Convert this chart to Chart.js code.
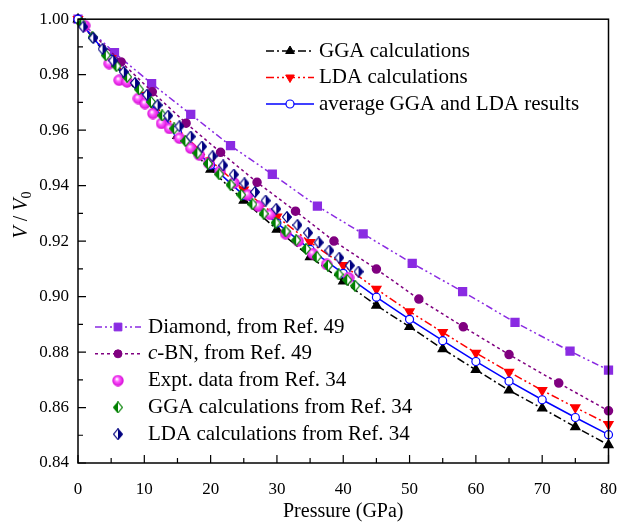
<!DOCTYPE html>
<html>
<head>
<meta charset="utf-8">
<script src="https://cdn.jsdelivr.net/npm/chart.js@4.4.1/dist/chart.umd.min.js"></script>
<style>
  html, body { margin: 0; padding: 0; background: #fff; }
</style>
</head>
<body>
<canvas id="chartCanvas" width="633" height="525"></canvas>
<script>
// calculated curves, every 5 GPa
const pressure = [0, 5, 10, 15, 20, 25, 30, 35, 40, 45, 50, 55, 60, 65, 70, 75, 80];
const ggaCalc = [1.0, 0.9850, 0.9710, 0.9580, 0.9458, 0.9346, 0.9242, 0.9143, 0.9055, 0.8968, 0.8891, 0.8811, 0.8736, 0.8662, 0.8597, 0.8530, 0.8465];
const ldaCalc = [1.0, 0.9859, 0.9727, 0.9605, 0.9490, 0.9385, 0.9288, 0.9196, 0.9113, 0.9027, 0.8946, 0.8871, 0.8797, 0.8728, 0.8662, 0.8600, 0.8540];
const avgCalc = [1.0, 0.9855, 0.9718, 0.9592, 0.9474, 0.9365, 0.9265, 0.9170, 0.9084, 0.8998, 0.8918, 0.8841, 0.8766, 0.8695, 0.8628, 0.8564, 0.8502];

// Ref. 49
const diamondP = [0, 5.5, 11.1, 17.0, 23.0, 29.3, 36.1, 43.0, 50.4, 58.0, 65.9, 74.2, 80.0];
const diamondV = [1.0, 0.9879, 0.9768, 0.9657, 0.9544, 0.9441, 0.9326, 0.9226, 0.9120, 0.9018, 0.8907, 0.8803, 0.8735];
const cbnP = [0, 6.5, 11.2, 16.3, 21.5, 27.0, 32.8, 38.6, 45.0, 51.4, 58.1, 65.0, 72.5, 80.0];
const cbnV = [1.0, 0.9846, 0.9738, 0.9625, 0.9520, 0.9412, 0.9308, 0.9200, 0.9099, 0.8991, 0.8891, 0.8791, 0.8688, 0.8588];

// Ref. 34
const exptP = [1.0, 4.7, 6.2, 7.4, 9.1, 10.1, 11.3, 12.6, 13.8, 15.3, 17.0, 18.3, 19.7, 21.4, 23.5, 25.6, 27.2, 29.0, 31.3, 33.2, 35.4, 37.5, 40.8];
const exptV = [0.9977, 0.9840, 0.9780, 0.9774, 0.9714, 0.9696, 0.9660, 0.9624, 0.9606, 0.9571, 0.9535, 0.9510, 0.9481, 0.9451, 0.9410, 0.9367, 0.9326, 0.9296, 0.9227, 0.9200, 0.9155, 0.9116, 0.9068];
const ggaRefP = [0.5, 2.2, 4.2, 5.8, 7.4, 9.2, 11.0, 12.7, 14.5, 16.2, 18.0, 19.6, 21.3, 23.0, 24.6, 26.3, 28.0, 29.8, 31.3, 32.9, 34.4, 36.0, 37.7, 39.3, 40.6, 41.8];
const ggaRefV = [0.9985, 0.9935, 0.9870, 0.9831, 0.9792, 0.9747, 0.9702, 0.9653, 0.9606, 0.9561, 0.9517, 0.9479, 0.9441, 0.9403, 0.9367, 0.9333, 0.9299, 0.9266, 0.9235, 0.9203, 0.9172, 0.9143, 0.9112, 0.9080, 0.9060, 0.9039];
const ldaRefP = [0.8, 2.3, 3.7, 5.3, 6.9, 8.6, 10.4, 12.0, 13.6, 15.3, 17.0, 18.7, 20.3, 21.9, 23.5, 25.1, 26.7, 28.3, 29.9, 31.5, 33.1, 34.7, 36.3, 37.9, 39.4, 41.0, 42.3];
const ldaRefV = [0.9973, 0.9932, 0.9893, 0.9851, 0.9810, 0.9770, 0.9728, 0.9690, 0.9652, 0.9614, 0.9577, 0.9541, 0.9506, 0.9473, 0.9440, 0.9408, 0.9377, 0.9346, 0.9316, 0.9287, 0.9258, 0.9230, 0.9195, 0.9166, 0.9140, 0.9112, 0.9090];

const xTicks = [0, 10, 20, 30, 40, 50, 60, 70, 80];
const xMinor = [5, 15, 25, 35, 45, 55, 65, 75];
const yTicks = [0.84, 0.86, 0.88, 0.90, 0.92, 0.94, 0.96, 0.98, 1.00];
const yMinor = [0.85, 0.87, 0.89, 0.91, 0.93, 0.95, 0.97, 0.99];

const FONT = "'Liberation Serif', 'Times New Roman', serif";

function pts(xs, ys) {
    return xs.map((x, i) => ({ x: x, y: ys[i] }));
}

// half filled diamond, like the origin markers
function halfDiamond(color, leftHalf) {
    const c = document.createElement("canvas");
    c.width = 10;
    c.height = 12;
    const g = c.getContext("2d");
    g.beginPath();
    g.moveTo(5, 0.6);
    g.lineTo(9.4, 6);
    g.lineTo(5, 11.4);
    g.lineTo(0.6, 6);
    g.closePath();
    g.fillStyle = "#fff";
    g.fill();
    g.save();
    g.clip();
    g.fillStyle = color;
    if (leftHalf) g.fillRect(0, 0, 5, 12);
    else g.fillRect(5, 0, 5, 12);
    g.restore();
    g.strokeStyle = color;
    g.lineWidth = 1.1;
    g.stroke();
    return c;
}

function sphere(d) {
    const c = document.createElement("canvas");
    c.width = d;
    c.height = d;
    const g = c.getContext("2d");
    const grad = g.createRadialGradient(d * 0.4, d * 0.36, 0.4, d / 2, d / 2, d / 2);
    grad.addColorStop(0, "#ffffff");
    grad.addColorStop(0.35, "#ff5cff");
    grad.addColorStop(1, "#d000d0");
    g.fillStyle = grad;
    g.beginPath();
    g.arc(d / 2, d / 2, d / 2 - 0.3, 0, 2 * Math.PI);
    g.fill();
    return c;
}

const ggaRefMark = halfDiamond("#008000", true);
const ldaRefMark = halfDiamond("#000080", false);
const exptMark = sphere(12);

const datasets = [
    {
        label: "LDA calculations from Ref. 34",
        data: pts(ldaRefP, ldaRefV),
        showLine: false,
        pointStyle: ldaRefMark,
        order: 1
    },
    {
        label: "GGA calculations from Ref. 34",
        data: pts(ggaRefP, ggaRefV),
        showLine: false,
        pointStyle: ggaRefMark,
        order: 2
    },
    {
        label: "Expt. data from Ref. 34",
        data: pts(exptP, exptV),
        showLine: false,
        pointStyle: exptMark,
        order: 3
    },
    {
        label: "average GGA and LDA results",
        data: pts(pressure, avgCalc),
        borderColor: "#0000ff",
        borderWidth: 1.5,
        pointStyle: "circle",
        pointRadius: 4,
        pointBackgroundColor: "#ffffff",
        pointBorderColor: "#0000ff",
        pointBorderWidth: 1.2,
        order: 4
    },
    {
        label: "LDA calculations",
        data: pts(pressure, ldaCalc),
        borderColor: "#ff0000",
        borderWidth: 1.5,
        borderDash: [8, 3, 2, 3, 2, 3],
        pointStyle: "triangle",
        pointRotation: 180,
        pointRadius: 5,
        pointBackgroundColor: "#ff0000",
        pointBorderColor: "#ff0000",
        order: 5
    },
    {
        label: "GGA calculations",
        data: pts(pressure, ggaCalc),
        borderColor: "#000000",
        borderWidth: 1.5,
        borderDash: [8, 3, 2, 3],
        pointStyle: "triangle",
        pointRadius: 5,
        pointBackgroundColor: "#000000",
        pointBorderColor: "#000000",
        order: 6
    },
    {
        label: "c-BN, from Ref. 49",
        data: pts(cbnP, cbnV),
        borderColor: "#800080",
        borderWidth: 1.5,
        borderDash: [3, 3],
        pointStyle: "circle",
        pointRadius: 4,
        pointBackgroundColor: "#800080",
        pointBorderColor: "#800080",
        order: 7
    },
    {
        label: "Diamond, from Ref. 49",
        data: pts(diamondP, diamondV),
        borderColor: "#8a2be2",
        borderWidth: 1.5,
        borderDash: [7, 3, 2, 3, 2, 3],
        pointStyle: "rect",
        pointRadius: 5.5,
        pointBackgroundColor: "#8a2be2",
        pointBorderColor: "#8a2be2",
        order: 8
    }
];
datasets.forEach(d => {
    d.fill = false;
    d.tension = 0;
    d.clip = false;
    if (d.pointRadius === undefined) d.pointRadius = 6;
});

function byLabel(l) {
    return datasets.find(d => d.label === l);
}

const legendTop = ["GGA calculations", "LDA calculations", "average GGA and LDA results"];
const legendBottom = ["Diamond, from Ref. 49", "c-BN, from Ref. 49", "Expt. data from Ref. 34",
    "GGA calculations from Ref. 34", "LDA calculations from Ref. 34"];

function drawEntry(ctx, ds, x0, x1, y, textX) {
    ctx.save();
    if (ds.showLine !== false) {
        ctx.strokeStyle = ds.borderColor;
        ctx.lineWidth = ds.borderWidth;
        ctx.setLineDash(ds.borderDash || []);
        ctx.beginPath();
        ctx.moveTo(x0, y);
        ctx.lineTo(x1, y);
        ctx.stroke();
        ctx.setLineDash([]);
    }
    ctx.fillStyle = ds.pointBackgroundColor || "#000";
    ctx.strokeStyle = ds.pointBorderColor || "#000";
    ctx.lineWidth = ds.pointBorderWidth || 1;
    Chart.helpers.drawPoint(ctx, {
        pointStyle: ds.pointStyle,
        radius: ds.pointRadius,
        rotation: ds.pointRotation || 0,
        borderWidth: ds.pointBorderWidth || 1
    }, (x0 + x1) / 2, y);
    ctx.fillStyle = "#000";
    ctx.font = "21px " + FONT;
    ctx.textBaseline = "middle";
    ctx.textAlign = "left";
    let label = ds.label;
    if (label.startsWith("c-BN")) {
        ctx.font = "italic 21px " + FONT;
        ctx.fillText("c", textX, y);
        const w = ctx.measureText("c").width;
        ctx.font = "21px " + FONT;
        ctx.fillText(label.slice(1), textX + w, y);
    } else {
        ctx.fillText(label, textX, y);
    }
    ctx.restore();
}

const framePlugin = {
    id: "frame",
    afterDraw(chart) {
        const ctx = chart.ctx;
        const a = chart.chartArea;
        const xs = chart.scales.x;
        const ys = chart.scales.y;
        ctx.save();
        ctx.strokeStyle = "#000";
        ctx.lineWidth = 1.5;
        ctx.strokeRect(a.left, a.top, a.right - a.left, a.bottom - a.top);
        ctx.lineWidth = 1.2;
        ctx.beginPath();
        xTicks.forEach(v => { const p = xs.getPixelForValue(v); ctx.moveTo(p, a.bottom); ctx.lineTo(p, a.bottom - 8); });
        xMinor.forEach(v => { const p = xs.getPixelForValue(v); ctx.moveTo(p, a.bottom); ctx.lineTo(p, a.bottom - 5); });
        yTicks.forEach(v => { const p = ys.getPixelForValue(v); ctx.moveTo(a.left, p); ctx.lineTo(a.left + 8, p); });
        yMinor.forEach(v => { const p = ys.getPixelForValue(v); ctx.moveTo(a.left, p); ctx.lineTo(a.left + 5, p); });
        ctx.stroke();

        // axis titles
        ctx.fillStyle = "#000";
        ctx.font = "20px " + FONT;
        ctx.textAlign = "center";
        ctx.textBaseline = "middle";
        ctx.fillText("Pressure (GPa)", (a.left + a.right) / 2, 512);

        ctx.save();
        ctx.translate(22, 215);
        ctx.rotate(-Math.PI / 2);
        const parts = [
            ["italic 20px " + FONT, "V", 0],
            ["20px " + FONT, " / ", 0],
            ["italic 20px " + FONT, "V", 0],
            ["14px " + FONT, "0", 5]
        ];
        let total = 0;
        parts.forEach(p => { ctx.font = p[0]; total += ctx.measureText(p[1]).width; });
        let cx = -total / 2;
        ctx.textAlign = "left";
        parts.forEach(p => {
            ctx.font = p[0];
            ctx.fillText(p[1], cx, p[2]);
            cx += ctx.measureText(p[1]).width;
        });
        ctx.restore();

        legendTop.forEach((l, i) => drawEntry(ctx, byLabel(l), 266, 314, 51 + i * 26.5, 319));
        legendBottom.forEach((l, i) => drawEntry(ctx, byLabel(l), 95, 141, 327 + i * 26.8, 148));
        ctx.restore();
    }
};

const ctx = document.getElementById("chartCanvas").getContext("2d");
const chart = new Chart(ctx, {
    type: "line",
    data: { datasets: datasets },
    options: {
        responsive: false,
        animation: false,
        events: [],
        layout: { padding: { top: 17, right: 12, left: 0, bottom: 0 } },
        scales: {
            x: {
                type: "linear",
                min: 0,
                max: 80,
                grid: { display: false, drawTicks: false },
                border: { display: false },
                afterBuildTicks: s => { s.ticks = xTicks.map(v => ({ value: v })); },
                afterFit: s => { s.height = 62; },
                ticks: {
                    color: "#000",
                    padding: 16,
                    maxRotation: 0,
                    font: { family: FONT, size: 17 }
                }
            },
            y: {
                type: "linear",
                min: 0.84,
                max: 1.00,
                grid: { display: false, drawTicks: false },
                border: { display: false },
                afterBuildTicks: s => { s.ticks = yTicks.map(v => ({ value: v })); },
                afterFit: s => { s.width = 78; },
                ticks: {
                    color: "#000",
                    padding: 9,
                    font: { family: FONT, size: 17 },
                    callback: v => v.toFixed(2)
                }
            }
        },
        plugins: {
            legend: { display: false },
            tooltip: { enabled: false }
        }
    },
    plugins: [framePlugin]
});
</script>
</body>
</html>
